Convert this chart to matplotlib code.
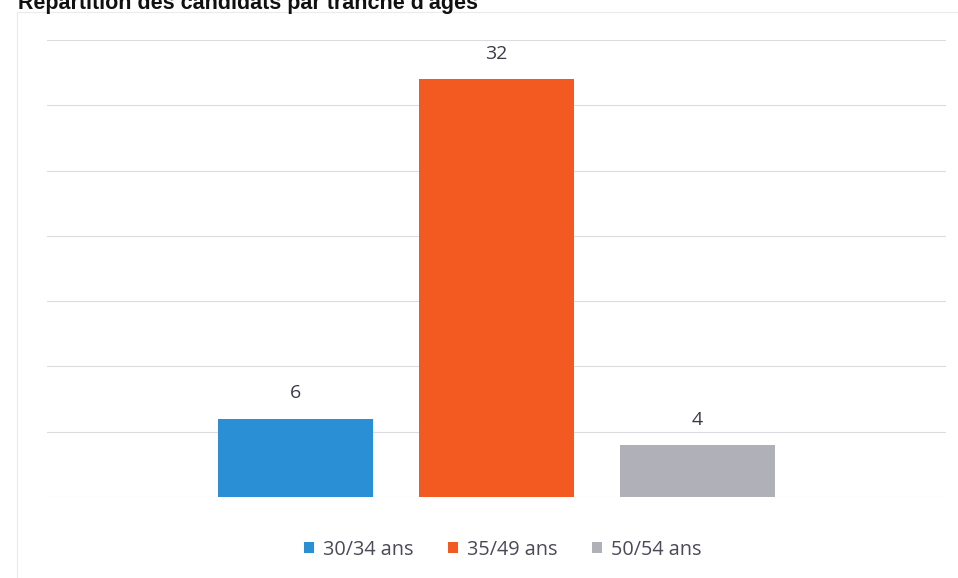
import matplotlib.pyplot as plt
from matplotlib.patches import Rectangle

# data
categories = ["30/34 ans", "35/49 ans", "50/54 ans"]
values = [6, 32, 4]
colors = ["#2b8fd6", "#f25a22", "#b0b0b8"]
title = "Répartition des candidats par tranche d'âges"


def draw():
	fig = plt.figure(figsize=(9.58, 5.78), dpi=100)
	ax = fig.add_axes([0.049, 0.14, 0.938, 0.791])

	# faint chart-area frame (left + top edges visible in the scan)
	frame = Rectangle((0.018, -0.01), 1.5, 0.99, transform=fig.transFigure,
		fill=False, edgecolor="#ebebef", linewidth=0.8)
	fig.patches.append(frame)

	x = range(len(categories))
	bars = ax.bar(x, values, width=0.77, color=colors, label=categories, zorder=3)
	for b, v in zip(bars, values):
		ax.text(b.get_x() + b.get_width() / 2, v + 1.25, str(v), ha="center",
			va="bottom", fontsize=14, color="#3a3a48", family="Open Sans")

	ax.set_xlim(-1.234, 3.234)
	ax.set_ylim(0, 35)
	ax.set_yticks(range(0, 36, 5))
	ax.grid(axis="y", color="#dcdce0", linewidth=0.8, zorder=0)
	ax.tick_params(left=False, bottom=False, labelleft=False, labelbottom=False)
	for s in ax.spines.values():
		s.set_visible(False)

	leg = fig.legend(handles=bars, labels=categories, loc="center",
		bbox_to_anchor=(0.525, 0.049), ncol=3, frameon=False,
		handlelength=0.5, handleheight=0.5, handletextpad=0.45,
		columnspacing=1.75, prop={"family": "Open Sans", "size": 14.3})
	for t in leg.get_texts():
		t.set_color("#4a4a58")

	fig.text(0.019, 1 - 9 / 578, title, fontsize=15.5, fontweight="bold",
		family="Liberation Sans", va="baseline", ha="left", color="#111111")

	fig.savefig("out.png", dpi=100)


def main():
	draw()


if __name__ == '__main__':
	main()
